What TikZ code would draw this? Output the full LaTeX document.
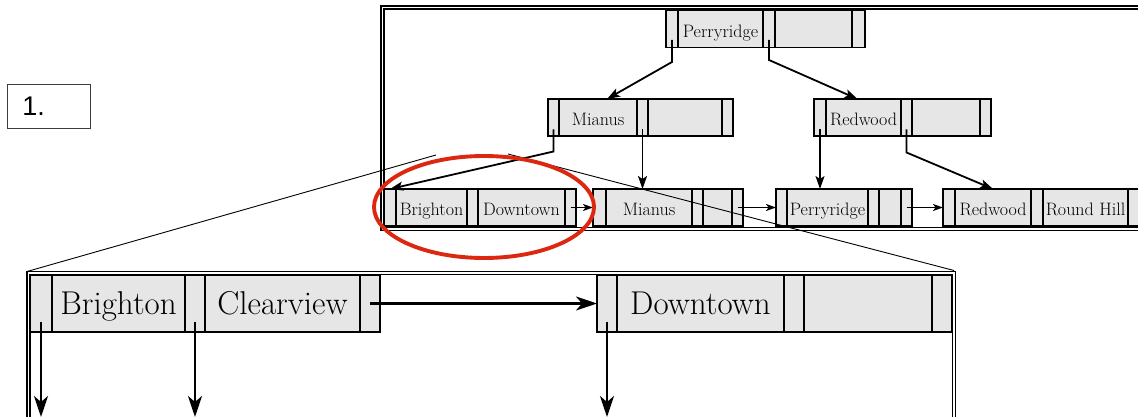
\documentclass[tikz,border=0pt]{standalone}
\usepackage{fontspec}
\newfontfamily\arialfont{Liberation Sans}
\usetikzlibrary{arrows.meta,calc}
\definecolor{cellgray}{RGB}{230,230,230}
\definecolor{ovalred}{RGB}{221,40,17}
\definecolor{boxgray}{RGB}{60,60,60}
\begin{document}
\begin{tikzpicture}[x=1pt,y=-1pt,
  cell/.style={draw, fill=cellgray, line width=1.7pt, inner sep=0pt, outer sep=0pt,
    minimum height=37pt, anchor=west, font=\fontsize{18}{18}\selectfont,
    text height=16.3pt, text depth=0pt},
  bigcell/.style={cell, line width=2.4pt, minimum height=57pt,
    font=\fontsize{33}{33}\selectfont, text height=22.5pt},
  frameline/.style={line width=1.2pt},
  zoomline/.style={line width=0.9pt},
  tarr/.style={line width=1.8pt, -{Stealth[length=13pt,width=9pt,inset=3pt]}},
  narr/.style={line width=1.4pt, -{Stealth[length=10pt,width=7pt,inset=2.5pt]}},
  barr/.style={line width=2.7pt, -{Stealth[length=21pt,width=14pt,inset=6pt]}},
  numbox/.style={draw=boxgray, line width=0.8pt, anchor=north west, minimum height=44pt,
    text width=53pt, inner xsep=15pt, inner ysep=0pt, align=left,
    font=\arialfont\fontsize{27}{27}\selectfont}
]
\useasboundingbox (0,0) rectangle (1138,417);
\clip (0,0) rectangle (1138,417);

% label box
\node[numbox] (num) at (7,84) {1.};

% frames
\draw[frameline] (381,6) rectangle (1160,230.5);
\draw[frameline] (384,9) rectangle (1160,227.5);
\draw[frameline] (27,271.5) rectangle (955.5,440);
\draw[frameline] (30,274.5) rectangle (952.5,440);

% root
\node[cell, minimum width=12pt] (r0) at (666,29) {};
\node[cell, minimum width=85pt] (r1) at (r0.east) {Perryridge};
\node[cell, minimum width=12pt] (r2) at (r1.east) {};
\node[cell, minimum width=77pt] (r3) at (r2.east) {};
\node[cell, minimum width=13pt] (r4) at (r3.east) {};

% internal Mianus
\node[cell, minimum width=11pt] (m0) at (548,117.5) {};
\node[cell, minimum width=78pt] (m1) at (m0.east) {Mianus};
\node[cell, minimum width=11pt] (m2) at (m1.east) {};
\node[cell, minimum width=74pt] (m3) at (m2.east) {};
\node[cell, minimum width=11pt] (m4) at (m3.east) {};

% internal Redwood
\node[cell, minimum width=12pt] (w0) at (814,117.5) {};
\node[cell, minimum width=75pt] (w1) at (w0.east) {Redwood};
\node[cell, minimum width=11pt] (w2) at (w1.east) {};
\node[cell, minimum width=68pt] (w3) at (w2.east) {};
\node[cell, minimum width=11pt] (w4) at (w3.east) {};

% leaf 1
\node[cell, minimum width=12pt] (a0) at (384,207.5) {};
\node[cell, minimum width=71pt] (a1) at (a0.east) {Brighton};
\node[cell, minimum width=11pt] (a2) at (a1.east) {};
\node[cell, minimum width=87pt] (a3) at (a2.east) {Downtown};
\node[cell, minimum width=11pt] (a4) at (a3.east) {};

% leaf 2
\node[cell, minimum width=13pt] (b0) at (593,207.5) {};
\node[cell, minimum width=86pt] (b1) at (b0.east) {Mianus};
\node[cell, minimum width=11pt] (b2) at (b1.east) {};
\node[cell, minimum width=29pt] (b3) at (b2.east) {};
\node[cell, minimum width=11pt] (b4) at (b3.east) {};

% leaf 3
\node[cell, minimum width=11pt] (c0) at (776,207.5) {};
\node[cell, minimum width=81pt] (c1) at (c0.east) {Perryridge};
\node[cell, minimum width=11pt] (c2) at (c1.east) {};
\node[cell, minimum width=22pt] (c3) at (c2.east) {};
\node[cell, minimum width=11pt] (c4) at (c3.east) {};

% leaf 4
\node[cell, minimum width=12pt] (d0) at (943,207.5) {};
\node[cell, minimum width=76pt] (d1) at (d0.east) {Redwood};
\node[cell, minimum width=12pt] (d2) at (d1.east) {};
\node[cell, minimum width=85pt] (d3) at (d2.east) {Round Hill};
\node[cell, minimum width=20pt] (d4) at (d3.east) {};

% big node 1
\node[bigcell, minimum width=22pt] (e0) at (30,303.5) {};
\node[bigcell, minimum width=133pt] (e1) at (e0.east) {Brighton};
\node[bigcell, minimum width=20pt] (e2) at (e1.east) {};
\node[bigcell, minimum width=155pt] (e3) at (e2.east) {Clearview};
\node[bigcell, minimum width=20pt] (e4) at (e3.east) {};

% big node 2
\node[bigcell, minimum width=20pt] (f0) at (597,303.5) {};
\node[bigcell, minimum width=167pt] (f1) at (f0.east) {Downtown};
\node[bigcell, minimum width=20pt] (f2) at (f1.east) {};
\node[bigcell, minimum width=128pt] (f3) at (f2.east) {};
\node[bigcell, minimum width=20pt] (f4) at (f3.east) {};

% tree pointers
\draw[tarr] ([yshift=-11pt]r0.center) -- ++(0,22) -- ([xshift=9pt]m1.north);
\draw[tarr] ([yshift=-11pt]r2.center) -- ++(0,20) -- ([xshift=-6pt]w1.north);
\draw[tarr] ([yshift=-12pt]m0.center) -- ++(0,22) -- (a0.north);
\draw[tarr] ([yshift=-12pt]m2.center) -- (m2.center |- b1.north);
\draw[tarr] ([yshift=-12pt]w0.center) -- (w0.center |- c1.north);
\draw[tarr] ([yshift=-12pt]w2.center) -- ++(0,23) -- (d1.north);

% leaf chain
\draw[narr] (a4.center) -- (b0.west);
\draw[narr] (b4.center) -- (c0.west);
\draw[narr] (c4.center) -- (d0.west);

% big pointers
\coordinate (bot) at (0,417);
\draw[barr] (e4.center) -- (f0.west);
\draw[barr] ([yshift=-18pt]e0.center) -- (e0.center |- bot);
\draw[barr] ([yshift=-18pt]e2.center) -- (e2.center |- bot);
\draw[barr] ([yshift=-18pt]f0.center) -- (f0.center |- bot);

% zoom lines
\coordinate (zl) at (436,155);
\coordinate (zr) at (508,154);
\coordinate (bigNW) at (27,271.5);
\coordinate (bigNE) at (954,270.5);
\draw[zoomline] (zl) -- (bigNW);
\draw[zoomline] (zr) -- (bigNE);

% red oval
\draw[ovalred, line width=3.9pt] (484,207) ellipse [x radius=110pt, y radius=51pt];
\end{tikzpicture}
\end{document}
